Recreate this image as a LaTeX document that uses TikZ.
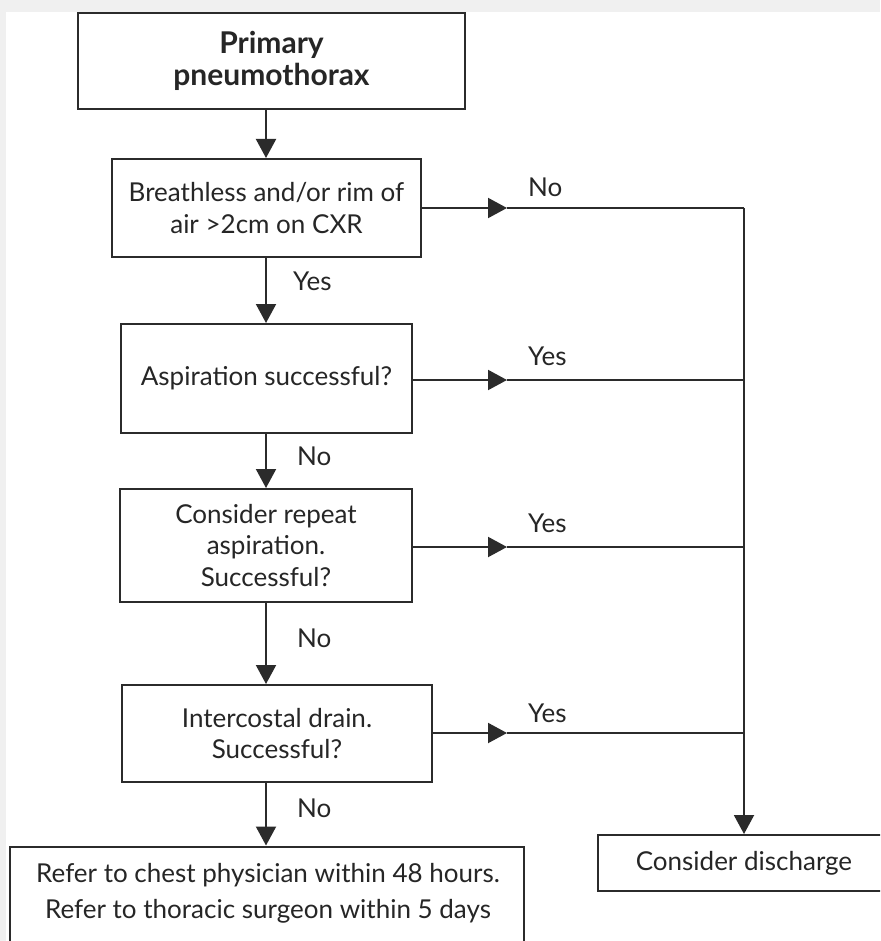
\documentclass[tikz,border=0pt]{standalone}
\usepackage{fontspec}
\setmainfont{Lato}
\usetikzlibrary{arrows.meta}
\definecolor{ln}{HTML}{2B2B2B}
\definecolor{bg}{HTML}{F0F0F0}
\tikzset{
  box/.style={draw=ln, line width=2pt, rectangle, inner sep=0pt, align=center, font=\fontsize{26}{31.5}\selectfont, text=black!85},
  txt/.style={align=center, font=\fontsize{26}{36}\selectfont, text=black!85, inner sep=0pt},
  lbl/.style={font=\fontsize{26}{31.5}\selectfont, text=black!85, inner sep=0pt, anchor=base west},
  conn/.style={draw=ln, line width=2pt},
  arr/.style={conn, -{Triangle[length=19pt,width=20pt]}},
}
\begin{document}
\begin{tikzpicture}[x=1pt,y=-1pt]
\useasboundingbox (0,0) rectangle (880,941);
\clip (0,0) rectangle (880,941);
\fill[bg] (0,0) rectangle (880,941);
\fill[white] (6,12) rectangle (890,960);

\node[box, minimum width=387, minimum height=96, font=\fontsize{30}{32}\selectfont\bfseries] (top) at (271.5,61) {Primary\\pneumothorax};
\node[box, minimum width=309, minimum height=98] (b2) at (266.5,208) {Breathless and/or rim of\\air >2cm on CXR};
\node[box, minimum width=291, minimum height=109] (b3) at (266.5,378.5) {Aspiration successful?};
\node[box, minimum width=292, minimum height=113] (b4) at (266,545.5) {Consider repeat\\aspiration.\\Successful?};
\node[box, minimum width=310, minimum height=97] (b5) at (277,733.5) {Intercostal drain.\\Successful?};
\node[box, minimum width=514, minimum height=130, anchor=north] (ref) at (267,845.5) {};
\node[txt] (reftxt) at (268,893) {Refer to chest physician within 48 hours.\\Refer to thoracic surgeon within 5 days};
\node[box, minimum width=292, minimum height=56] (dis) at (744,863) {Consider discharge};

% main column
\coordinate (col) at (266,0);
\draw[arr] (top.south -| col) -- (b2.north -| col);
\draw[arr] (b2.south -| col) -- (b3.north -| col);
\draw[arr] (b3.south -| col) -- (b4.north -| col);
\draw[arr] (b4.south -| col) -- (b5.north -| col);
\draw[arr] (b5.south -| col) -- (ref.north -| col);

% right trunk
\coordinate (tr) at (744,0);
\coordinate (m) at (507,0);
\coordinate (y2) at (0,208);
\coordinate (y3) at (0,380);
\coordinate (y4) at (0,547);
\coordinate (y5) at (0,733);

\draw[arr] (b2.east |- y2) -- (m |- y2);
\draw[conn] (m |- y2) -- (tr |- y2);
\draw[arr] (tr |- y2) -- (dis.north);
\draw[arr] (b3.east |- y3) -- (m |- y3);
\draw[conn] (m |- y3) -- (tr |- y3);
\draw[arr] (b4.east |- y4) -- (m |- y4);
\draw[conn] (m |- y4) -- (tr |- y4);
\draw[arr] (b5.east |- y5) -- (m |- y5);
\draw[conn] (m |- y5) -- (tr |- y5);

% labels
\node[lbl] (l1) at (528,197) {No};
\node[lbl] (l2) at (528,365) {Yes};
\node[lbl] (l3) at (528,532) {Yes};
\node[lbl] (l4) at (528,722) {Yes};
\node[lbl] (l5) at (293,290) {Yes};
\node[lbl] (l6) at (297,465) {No};
\node[lbl] (l7) at (297,647) {No};
\node[lbl] (l8) at (297,817) {No};
\end{tikzpicture}
\end{document}
